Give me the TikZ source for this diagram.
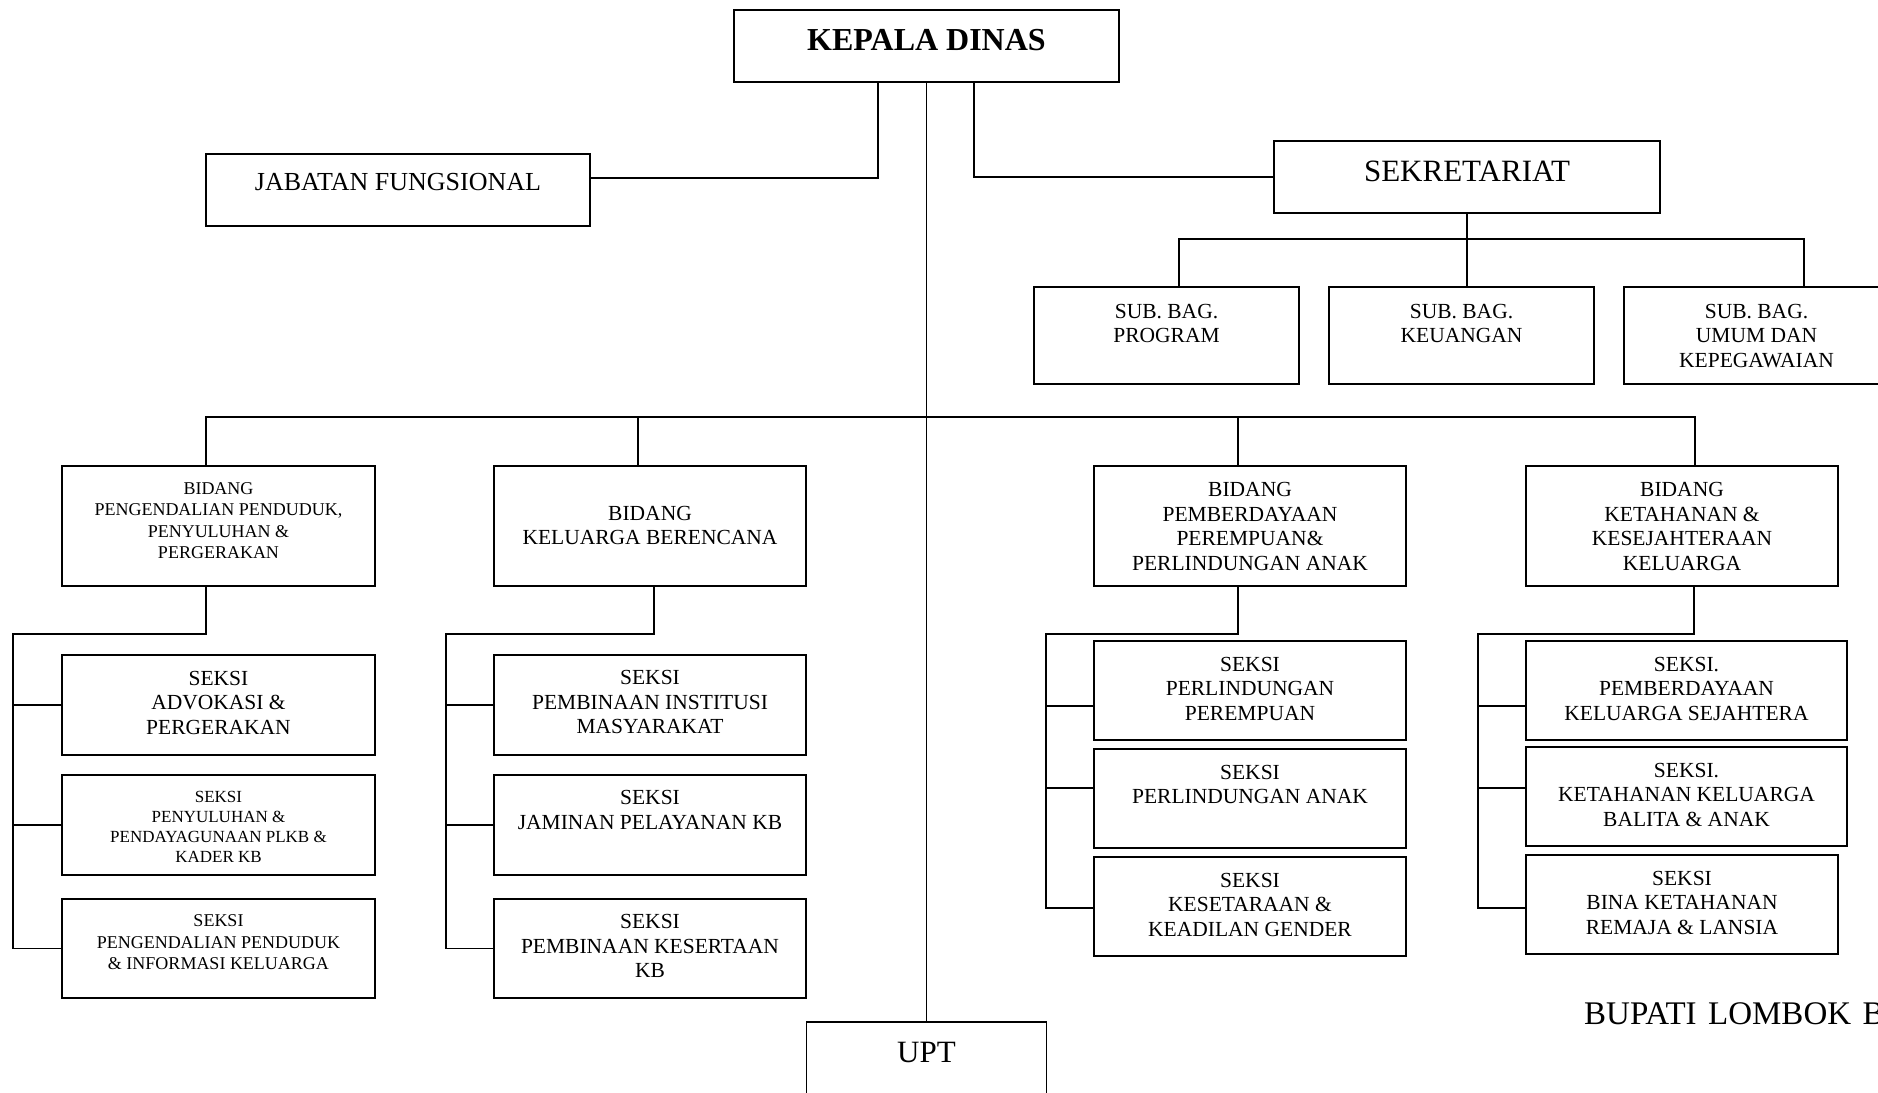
\documentclass[tikz,border=0pt]{standalone}
\usepackage{fontspec}
\setmainfont{Liberation Serif}

% isi kotak: lebar, tinggi, jarak baris pertama, teks
\newcommand{\isikotak}[4]{\parbox[c][#2][t]{#1}{\centering\rule{0pt}{#3}#4}}

\begin{document}
\begin{tikzpicture}[x=1pt, y=-1pt,
    unit/.style={draw, line width=1.8pt, inner sep=0pt, font=\fontsize{21.5}{24.6}\selectfont},
    kecil/.style={font=\fontsize{18}{21.5}\selectfont},
    garis/.style={line width=1.6pt}]

    % --- Canvas ---
    \useasboundingbox (0,0) rectangle (1878,1092);
    \clip (0,0) rectangle (1878,1092);

    % --- Pimpinan ---
    \node[unit, font=\fontsize{32}{36}\selectfont\bfseries] (kepala) at (926.5,46)
        {\isikotak{385pt}{72pt}{40.6pt}{KEPALA DINAS}};
    \node[unit, font=\fontsize{26}{30}\selectfont] (jabatan) at (398,190)
        {\isikotak{384pt}{72pt}{36pt}{JABATAN FUNGSIONAL}};
    \node[unit, font=\fontsize{31}{35}\selectfont] (sekretariat) at (1467,177)
        {\isikotak{386pt}{72pt}{40pt}{SEKRETARIAT}};

    % --- Sub bagian ---
    \node[unit] (subprog) at (1166.5,335.5) {\isikotak{265pt}{97pt}{31pt}{SUB. BAG.\\PROGRAM}};
    \node[unit] (subkeu)  at (1461.5,335.5) {\isikotak{265pt}{97pt}{31pt}{SUB. BAG.\\KEUANGAN}};
    \node[unit] (subumum) at (1756.5,335.5) {\isikotak{265pt}{97pt}{31pt}{SUB. BAG.\\UMUM DAN\\KEPEGAWAIAN}};

    % --- Bidang ---
    \node[unit, kecil] (bidpp) at (218.5,526)
        {\isikotak{313pt}{120pt}{28pt}{BIDANG\\PENGENDALIAN PENDUDUK,\\PENYULUHAN \&\\PERGERAKAN}};
    \node[unit] (bidkb) at (650,526)
        {\isikotak{312pt}{120pt}{54pt}{BIDANG\\KELUARGA BERENCANA}};
    \node[unit] (bidpa) at (1250,526)
        {\isikotak{312pt}{120pt}{30.5pt}{BIDANG\\PEMBERDAYAAN\\PEREMPUAN\&\\PERLINDUNGAN ANAK}};
    \node[unit] (bidks) at (1682,526)
        {\isikotak{312pt}{120pt}{30.5pt}{BIDANG\\KETAHANAN \&\\KESEJAHTERAAN\\KELUARGA}};

    % --- Seksi bidang pengendalian penduduk ---
    \node[unit] (sadv) at (218.5,705) {\isikotak{313pt}{100pt}{30pt}{SEKSI\\ADVOKASI \&\\PERGERAKAN}};
    \node[unit, font=\fontsize{17}{20}\selectfont] (spen) at (218.5,825)
        {\isikotak{313pt}{100pt}{27pt}{SEKSI\\PENYULUHAN \&\\PENDAYAGUNAAN PLKB \&\\KADER KB}};
    \node[unit, kecil] (sinf) at (218.5,948.5)
        {\isikotak{313pt}{99pt}{27.5pt}{SEKSI\\PENGENDALIAN PENDUDUK\\\& INFORMASI KELUARGA}};

    % --- Seksi bidang KB ---
    \node[unit] (sinst) at (650,705)   {\isikotak{312pt}{100pt}{29.5pt}{SEKSI\\PEMBINAAN INSTITUSI\\MASYARAKAT}};
    \node[unit] (sjam)  at (650,825)   {\isikotak{312pt}{100pt}{29.7pt}{SEKSI\\JAMINAN PELAYANAN KB}};
    \node[unit] (sker)  at (650,948.5) {\isikotak{312pt}{99pt}{29.6pt}{SEKSI\\PEMBINAAN KESERTAAN\\KB}};

    % --- Seksi bidang PP & PA ---
    \node[unit] (sperp) at (1250,690.5) {\isikotak{312pt}{99pt}{30pt}{SEKSI\\PERLINDUNGAN\\PEREMPUAN}};
    \node[unit] (sanak) at (1250,798.5) {\isikotak{312pt}{99pt}{30pt}{SEKSI\\PERLINDUNGAN ANAK}};
    \node[unit] (sgen)  at (1250,906.5) {\isikotak{312pt}{99pt}{30pt}{SEKSI\\KESETARAAN \&\\KEADILAN GENDER}};

    % --- Seksi bidang ketahanan ---
    \node[unit] (skel) at (1686.5,690.5) {\isikotak{321pt}{99pt}{30pt}{SEKSI.\\PEMBERDAYAAN\\KELUARGA SEJAHTERA}};
    \node[unit] (sbal) at (1686.5,796.5) {\isikotak{321pt}{99pt}{30pt}{SEKSI.\\KETAHANAN KELUARGA\\BALITA \& ANAK}};
    \node[unit] (srem) at (1682,904.5)   {\isikotak{312pt}{99pt}{30pt}{SEKSI\\BINA KETAHANAN\\REMAJA \& LANSIA}};

    % --- UPT dan teks bawah ---
    \node[unit, font=\fontsize{31}{35}\selectfont] (upt) at (926.5,1071)
        {\isikotak{240pt}{98pt}{40.5pt}{UPT}};
    \node[anchor=base west, inner sep=0pt, font=\fontsize{33}{38}\selectfont] (bupati) at (1584,1024)
        {\spaceskip=11.5pt BUPATI LOMBOK B};

    % --- Garis komando ---
    \draw[garis] (kepala.south) -- (upt.north);
    \draw[garis] ([xshift=-48.5pt]kepala.south) |- ([yshift=12pt]jabatan.east);
    \draw[garis] ([xshift=47.5pt]kepala.south) |- (sekretariat.west);

    % sekretariat ke sub bagian
    \coordinate (sbus) at (1467,239);
    \draw[garis] (sekretariat.south) -- (subkeu.north -| sekretariat.south);
    \draw[garis] ([xshift=12.5pt]subprog.north) |- (sbus) -| ([xshift=47.5pt]subumum.north);

    % kepala ke bidang
    \coordinate (bbus) at (926.5,417);
    \draw[garis] ([xshift=-12.5pt]bidpp.north) |- (bbus) -| ([xshift=13pt]bidks.north);
    \draw[garis] ([xshift=-12pt]bidkb.north) |- (bbus);
    \draw[garis] ([xshift=-12pt]bidpa.north) |- (bbus);

    % bidang ke seksi
    \coordinate (pp) at (13,634);
    \draw[garis] ([xshift=-12.5pt]bidpp.south) |- (pp) |- (sinf.west);
    \draw[garis] (pp |- sadv.west) -- (sadv.west);
    \draw[garis] (pp |- spen.west) -- (spen.west);

    \coordinate (kb) at (446,634);
    \draw[garis] ([xshift=4pt]bidkb.south) |- (kb) |- (sker.west);
    \draw[garis] (kb |- sinst.west) -- (sinst.west);
    \draw[garis] (kb |- sjam.west) -- (sjam.west);

    \coordinate (pa) at (1046,634);
    \coordinate (pa1) at ([yshift=-15.5pt]sperp.west);
    \coordinate (pa2) at ([yshift=10.5pt]sanak.west);
    \coordinate (pa3) at ([yshift=-1.5pt]sgen.west);
    \draw[garis] ([xshift=-12pt]bidpa.south) |- (pa) |- (pa3);
    \draw[garis] (pa |- pa1) -- (pa1);
    \draw[garis] (pa |- pa2) -- (pa2);

    \coordinate (ks) at (1478,634);
    \coordinate (ks1) at ([yshift=-15.5pt]skel.west);
    \coordinate (ks2) at ([yshift=8.5pt]sbal.west);
    \coordinate (ks3) at ([yshift=-3.5pt]srem.west);
    \draw[garis] ([xshift=12pt]bidks.south) |- (ks) |- (ks3);
    \draw[garis] (ks |- ks1) -- (ks1);
    \draw[garis] (ks |- ks2) -- (ks2);

\end{tikzpicture}
\end{document}
